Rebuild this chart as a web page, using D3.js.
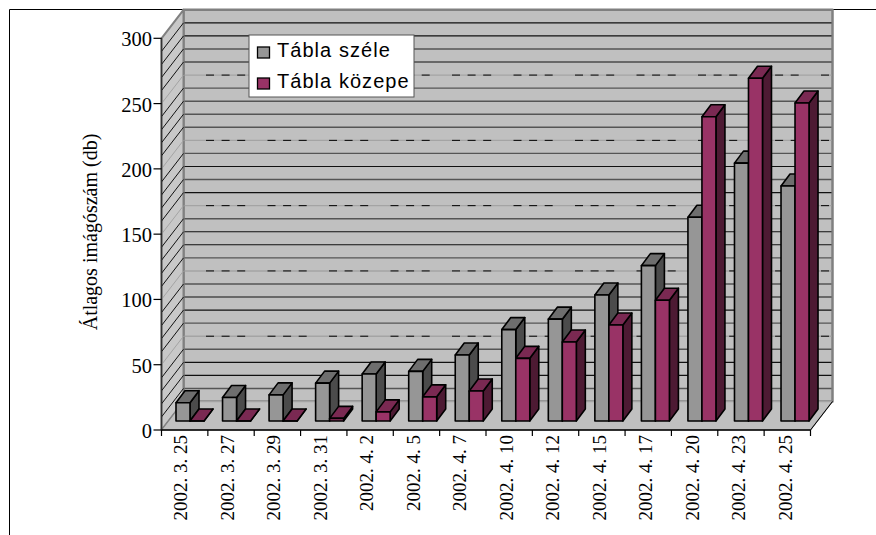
<!DOCTYPE html>
<html><head><meta charset="utf-8">
<script src="https://cdn.jsdelivr.net/npm/d3@7/dist/d3.min.js"></script>
<style>html,body{margin:0;padding:0;background:#fff}svg{display:block}text{font-family:"Liberation Serif",serif;fill:#000}</style>
</head><body><svg id="c" width="876" height="535"></svg>
<script>
const categories=["2002. 3. 25","2002. 3. 27","2002. 3. 29","2002. 3. 31","2002. 4. 2","2002. 4. 5","2002. 4. 7","2002. 4. 10","2002. 4. 12","2002. 4. 15","2002. 4. 17","2002. 4. 20","2002. 4. 23","2002. 4. 25"];
const szele=[14,18,20,29,36,38,50.5,70,78,96.5,119,156,197.5,180];
const kozepe=[0,0,0,2,7,18.5,23,48,60.5,73.5,92.5,233,262.5,243.5];
const seriesNames=["Tábla széle","Tábla közepe"];
const yTicks=[0,50,100,150,200,250,300];
const gridValues=d3.range(0,301,10);
const lightValues=[0,50,100,150,200,250];
const darkValues=[10,40,60,90,110,140,170,190,210,220,230,240,270,300];
const svg=d3.select("#c");
const x=d3.scaleBand().domain(categories).range([161.5,810.5]);
const xBars=d3.scaleBand().domain(categories).range([176,176+14*46.54]);
const y=d3.scaleLinear().domain([0,300]).range([430,38.3]);
const DX=22,DY=-28.5,bx=9,by=-12,baseShift=-9;
const poly=(g,pts,fill,sw=1.6,st="#000")=>g.append("polygon").attr("points",pts.map(p=>p.join(",")).join(" ")).attr("fill",fill).attr("stroke",st).attr("stroke-width",sw).attr("stroke-linejoin","round");
svg.append("path").attr("d","M9.5,535V9.5H876").attr("fill","none").attr("stroke","#000").attr("stroke-width",1);
const x0=x.range()[0],x1=x.range()[1];
const wall=svg.append("g");
poly(wall,[[x0+DX,y(300)+DY],[x1+DX,y(300)+DY],[x1+DX,y(0)+DY],[x0+DX,y(0)+DY]],"#c0c0c0",2.5,"#808080");
poly(wall,[[x0,y(300)],[x0+DX,y(300)+DY],[x0+DX,y(0)+DY],[x0,y(0)]],"#c8c8c8",2,"#808080");
poly(wall,[[x0,y(0)],[x0+DX,y(0)+DY],[x1+DX,y(0)+DY],[x1,y(0)]],"#c0c0c0",1.2,"#808080");
gridValues.forEach(v=>{
 const light=lightValues.includes(v),dark=darkValues.includes(v);
 const col=light?"#a4a4a4":dark?"#555":"#111";
 if(v<300) wall.append("line").attr("x1",x0+DX+1).attr("x2",x1+DX-1).attr("y1",y(v)+DY).attr("y2",y(v)+DY).attr("stroke",col).attr("stroke-width",light||dark?1.4:1.1);
 if(light&&v>0) wall.append("line").attr("x1",206).attr("x2",x1+DX-3).attr("y1",y(v)+DY).attr("y2",y(v)+DY).attr("stroke","#000").attr("stroke-width",1).attr("stroke-dasharray","8 7.6 8 7.6 8 22.3");
 if(v>0&&v<300) wall.append("line").attr("x1",x0).attr("x2",x0+DX).attr("y1",y(v)).attr("y2",y(v)+DY).attr("stroke",light?"#a4a4a4":"#111").attr("stroke-width",1);
});
wall.append("line").attr("x1",x0).attr("x2",x0).attr("y1",y(300)).attr("y2",y(0)).attr("stroke","#333").attr("stroke-width",1.5);
wall.append("line").attr("x1",x1).attr("x2",x1+DX).attr("y1",y(0)).attr("y2",y(0)+DY).attr("stroke","#000").attr("stroke-width",1);
const bars=svg.append("g");
const bw=14;
function bar(xl,v,cf,ct,cs){
 const yb=y(0)+baseShift,yt=yb-(y(0)-y(v));
 const xr=xl+bw;
 poly(bars,[[xr,yt],[xr+bx,yt+by],[xr+bx,yb+by],[xr,yb]],cs);
 poly(bars,[[xl,yt],[xl+bx,yt+by],[xr+bx,yt+by],[xr,yt]],ct);
 poly(bars,[[xl,yt],[xr,yt],[xr,yb],[xl,yb]],cf);
}
categories.forEach((c,i)=>{
 const b=xBars(c);
 bar(b,szele[i],"#969696","#6e6e6e","#4b4b4b");
 bar(b+bw,kozepe[i],"#993366","#7a2952","#4d1a33");
});
const axis=svg.append("g");
axis.append("line").attr("x1",x0).attr("x2",x1).attr("y1",y(0)).attr("y2",y(0)).attr("stroke","#000").attr("stroke-width",1.5);
d3.range(0,categories.length+1).forEach(i=>{
 const px=x0+i*x.step();
 axis.append("line").attr("x1",px).attr("x2",px).attr("y1",430).attr("y2",436).attr("stroke","#000").attr("stroke-width",1.2);
});
yTicks.forEach(v=>{
 axis.append("line").attr("x1",x0-8).attr("x2",x0).attr("y1",y(v)).attr("y2",y(v)).attr("stroke","#000").attr("stroke-width",1.2);
 axis.append("text").attr("x",152).attr("y",y(v)+8).attr("text-anchor","end").attr("font-size",20.5).text(v);
});
categories.forEach(c=>{
 axis.append("text").attr("transform",`translate(${xBars(c)+11},435) rotate(-90)`).attr("text-anchor","end").attr("font-size",19).text(c);
});
svg.append("text").attr("transform","translate(97,232) rotate(-90)").attr("text-anchor","middle").attr("font-size",20).text("Átlagos imágószám (db)");
const leg=svg.append("g");
leg.append("rect").attr("x",249).attr("y",35).attr("width",165).attr("height",62).attr("fill","#fff").attr("stroke","#555").attr("stroke-width",1);
seriesNames.forEach((n,i)=>{
 const ly=47+i*31;
 leg.append("rect").attr("x",257.5).attr("y",ly).attr("width",12).attr("height",11).attr("fill",i?"#993366":"#969696").attr("stroke","#000").attr("stroke-width",1.3);
 leg.append("text").attr("x",277).attr("y",57+i*31).attr("font-size",20).attr("letter-spacing",1.05).style("font-family","'Liberation Sans',sans-serif").text(n);
});
</script></body></html>
